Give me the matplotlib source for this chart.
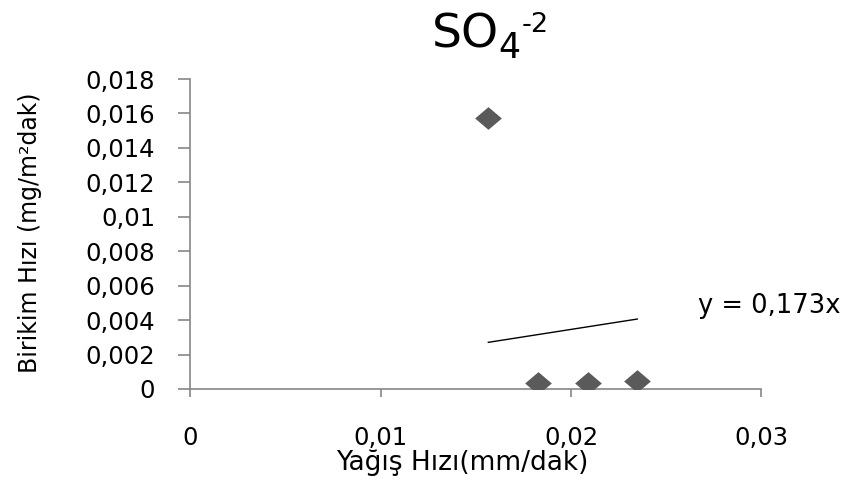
import matplotlib
matplotlib.use("Agg")
import matplotlib.pyplot as plt
import matplotlib.ticker as mticker
import numpy as np

# Data
x_vals = [0.01566, 0.01828, 0.02091, 0.02348]
y_vals = [0.01575, 0.00033, 0.00037, 0.00048]
slope = 0.173
x_ticks = [0, 0.01, 0.02, 0.03]
y_ticks = [0, 0.002, 0.004, 0.006, 0.008, 0.01, 0.012, 0.014, 0.016, 0.018]
title_main = "SO"
title_sub = "4"
title_sup = "-2"
x_label = "Yağış Hızı(mm/dak)"
y_label = "Birikim Hızı (mg/m²dak)"
eq_label = "y = 0,173x"

plt.rcParams['font.family'] = ['DejaVu Sans']
axis_color = "#868686"

W, H = 851, 486
fig = plt.figure(figsize=(W / 100, H / 100), dpi=100)
ax = fig.add_axes([0.2233, 0.1996, 0.8948 - 0.2233, 0.8374 - 0.1996])

diamond = [(-1, 0), (0, 0.85), (1, 0), (0, -0.85), (-1, 0)]
ax.scatter(x_vals, y_vals, marker=diamond, s=370, color="#5a5a5a", zorder=3, linewidths=0)
xs = np.array([min(x_vals), max(x_vals)])
ax.plot(xs, slope * xs, color="black", lw=1.0, zorder=2)

ax.set_xlim(0, 0.03)
ax.set_ylim(0, 0.018)
ax.set_xticks(x_ticks)
ax.set_yticks(y_ticks)

def fmt(v, pos):
    if abs(v) < 1e-12:
        return "0"
    s = ("%.3f" % v).rstrip("0").rstrip(".")
    return s.replace(".", ",")

ax.xaxis.set_major_formatter(mticker.FuncFormatter(fmt))
ax.yaxis.set_major_formatter(mticker.FuncFormatter(fmt))

for s in ["top", "right"]:
    ax.spines[s].set_visible(False)
for s in ["left", "bottom"]:
    ax.spines[s].set_color(axis_color)
    ax.spines[s].set_linewidth(1.2)

ax.tick_params(axis="y", direction="out", length=9, width=1.2, color=axis_color,
               labelsize=17.5, pad=16, labelcolor="black")
ax.tick_params(axis="x", direction="out", length=6, width=1.2, color=axis_color,
               labelsize=17.5, pad=21, labelcolor="black")

fig.text(462 / W, 1 - 463 / H, x_label, ha="center", va="center", fontsize=19)
fig.text(30 / W, 1 - 233 / H, y_label, ha="center", va="center", fontsize=17, rotation=90)

fig.text(698 / W, 1 - 306 / H, eq_label, ha="left", va="center", fontsize=18.5)

fig.text(432 / W, 1 - 47 / H, title_main, ha="left", va="baseline", fontsize=34)
fig.text(498 / W, 1 - 58 / H, title_sub, ha="left", va="baseline", fontsize=25)
fig.text(522 / W, 1 - 32 / H, title_sup, ha="left", va="baseline", fontsize=19.5)

fig.savefig("out.png", dpi=100)
